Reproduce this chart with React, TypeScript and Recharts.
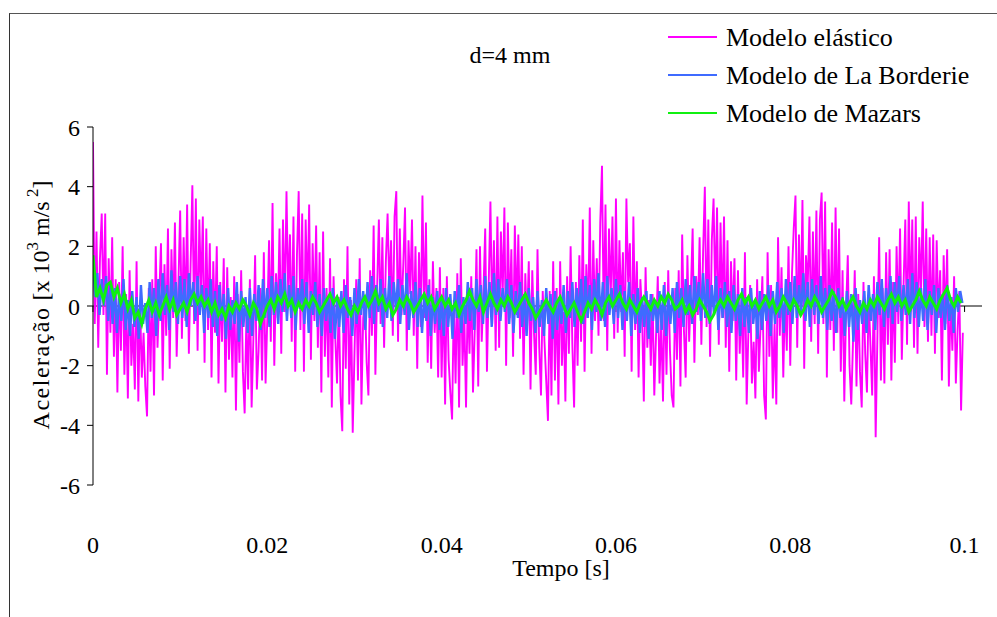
import { LineChart, Line, XAxis, YAxis, ReferenceLine } from "recharts";

// sampling steps of each series [s]
const DT_ELASTIC = 0.0002;
const DT_BORDERIE = 0.00025;
const DT_MAZARS = 0.0004;

const ELASTIC = [
  5.5, -0.6, 2.5, -1.4, 1.6, 3.1, -0.3, 3.1, -2.3, 1.6,
  -0.9, 2.3, -1.7, 0.9, -2.9, 0.8, -1.5, 2.0, -2.3, 0.4,
  -3.1, 1.2, -2.0, -0.6, -2.8, 1.5, -3.2, 0.2, -2.4, -0.9,
  -2.7, -3.7, 0.6, -2.2, 0.9, -3.0, 2.0, -1.4, 0.3, 2.1,
  -2.5, 1.4, -1.0, 2.6, -2.1, 1.9, -0.4, 2.8, -1.7, 0.7,
  3.2, -1.1, 2.3, -0.5, 3.4, -1.6, 1.4, 4.05, -0.6, 3.6,
  -1.5, 2.9, 0.4, 3.0, -1.9, 2.6, -0.8, 2.1, -2.4, 1.5,
  -0.9, 2.0, -2.6, 0.8, -1.2, 1.6, -2.9, 1.3, -1.8, 0.3,
  -2.4, 1.0, -3.5, 0.4, -1.9, 1.2, -2.2, -3.6, -0.3, -2.8,
  0.9, -3.4, -1.1, 1.7, -2.8, -1.5, 0.6, -2.5, 1.8, -2.6,
  -0.4, 2.2, -1.2, 3.45, -2.0, 1.1, -0.4, 2.6, -1.6, 2.9,
  -0.2, 3.85, 0.3, 2.4, -1.2, 3.0, -2.2, 1.7, 3.85, -0.8,
  3.1, -2.2, 2.9, 0.1, 3.4, -1.8, 2.1, -0.5, 2.7, -1.4,
  1.8, -2.9, 2.5, -1.7, 0.6, -2.4, 1.6, -3.4, 1.0, -1.1,
  -2.6, 0.3, -3.0, -4.2, 0.9, -2.1, 2.0, -3.3, 0.2, -4.25,
  -1.6, 0.9, -2.5, 1.6, -3.3, -0.4, 0.2, -1.9, -3.0, 1.2,
  -1.0, 2.7, -2.3, 0.6, 2.9, -0.6, 2.3, -1.4, 1.5, 3.1,
  0.5, 2.2, -1.0, 3.0, 3.85, -1.2, 2.6, -0.3, 1.4, 3.3,
  -1.5, 2.2, 0.4, 2.9, -1.0, 2.0, -2.1, 1.8, -0.7, 3.7,
  -0.4, 2.8, -1.9, 0.9, -2.1, 1.5, -0.9, 0.6, -2.4, 1.3,
  -2.4, 0.6, -3.3, 1.0, -1.8, -2.9, -3.8, 0.2, -2.6, 1.1,
  -3.4, 1.6, -2.0, -0.3, -3.4, 0.4, -1.6, 1.0, -2.9, -0.8,
  1.9, -2.7, 2.0, -1.2, 0.5, 2.6, -2.2, 0.7, 3.5, -0.6,
  2.2, -1.5, 3.0, -1.4, 2.5, 0.3, 3.3, -2.0, 2.8, -0.4,
  1.9, -1.7, 2.7, -0.3, 2.4, -1.1, 2.0, -2.3, 1.1, -0.7,
  1.5, -2.8, 1.2, -0.9, -2.3, 1.9, -1.4, -3.0, 0.5, -1.2,
  -2.5, -3.85, 0.5, -3.0, 1.5, -2.5, 0.6, -3.3, 1.5, -2.0,
  -0.2, -3.2, 1.0, -1.6, 2.0, -1.3, -3.4, 0.8, -2.0, 1.7,
  -1.2, 2.9, -2.2, 1.4, -0.4, 3.3, -1.6, 2.2, -0.5, 1.6,
  -1.0, 2.8, 4.7, -0.5, 3.4, -1.5, 2.6, 0.3, 3.0, -1.1,
  3.6, -0.9, 2.2, -0.2, 1.8, -1.7, 3.6, 0.8, 2.1, -2.2,
  3.0, -0.8, 1.5, -2.4, 0.9, -0.3, -3.2, 1.3, -1.4, 0.2,
  -2.0, 0.4, -3.0, -1.0, 1.0, -2.6, -0.5, -3.2, 0.8, -2.3,
  1.2, -1.5, -3.0, -3.4, 0.6, -1.8, 1.2, -2.7, 2.4, -0.8,
  -2.4, 1.7, -1.2, 0.5, 2.6, -1.9, 1.0, -0.3, 2.3, -1.3,
  1.8, 4.0, -0.7, 2.9, -1.7, 2.2, 3.6, 0.2, 3.3, -1.3,
  2.8, -0.4, 3.0, -1.4, 2.2, -2.2, 1.5, -0.5, 1.6, -2.5,
  1.2, -1.6, 0.3, -2.4, 1.8, -3.3, -0.8, 0.7, -2.6, -1.2,
  -3.1, 0.9, -2.2, -0.6, 1.0, -3.0, -3.8, 1.8, -1.7, 0.7,
  -3.1, -0.6, -3.3, 2.3, -1.0, 1.3, -2.4, 0.4, -1.5, 2.0,
  -2.0, 1.1, 2.6, 3.7, -1.4, 2.4, -0.3, 3.55, -2.1, 1.7,
  0.6, 3.0, -1.2, 2.5, -0.6, 3.2, -1.6, 2.9, 3.8, -0.6,
  3.5, -2.4, 1.9, -0.8, 2.8, -1.5, 3.3, -0.9, 2.6, -2.2,
  1.2, -3.2, -0.2, 1.7, -2.0, -3.3, -1.2, 1.2, -2.7, 0.4,
  -2.2, -3.4, 0.8, -1.6, -2.9, 0.3, -1.3, -3.0, 1.0, -4.4,
  -1.0, 2.3, -2.5, 0.6, -2.6, 1.8, -1.3, 1.9, -2.5, 0.8,
  -1.9, 2.0, -0.6, 2.6, -1.8, 0.7, 2.9, -1.3, 3.5, -0.2,
  2.9, -1.4, 3.0, -1.6, 2.3, 0.5, 3.5, -0.7, 2.6, -1.2,
  2.3, -1.0, 2.4, -1.6, 2.2, -0.4, 1.2, -2.5, 1.7, -0.6,
  1.9, -2.7, 0.3, -1.5, 1.0, -2.6, -0.8, 0.5, -3.5, -0.9,
];

const BORDERIE = [
  1.5, 0.3, 1.1, -0.3, 0.9, 0.0, 1.0, -0.5, 0.8, -0.6,
  0.6, -0.9, 0.4, -0.5, 0.9, -0.8, 0.2, -1.0, 0.5, -0.7,
  0.3, -1.1, 0.7, -0.6, 0.1, -0.9, 0.8, -0.4, 0.6, -1.0,
  0.9, -0.5, 1.1, -0.3, 0.7, -0.8, 1.2, -0.2, 0.8, -0.6,
  1.0, -0.4, 0.9, -0.7, 1.1, 0.0, 0.8, -0.5, 1.0, -0.3,
  0.7, -0.9, 0.6, -0.4, 0.9, -0.7, 0.5, -1.0, 0.7, -0.5,
  0.4, -1.1, 0.6, -0.8, 0.2, -0.6, 0.8, -1.2, 0.5, -0.7,
  0.3, -0.9, 0.6, -1.0, 0.4, -0.5, 0.7, -0.8, 0.9, -0.4,
  0.6, -0.7, 1.0, -0.3, 0.8, -0.6, 0.9, -0.2, 1.1, -0.5,
  0.7, -0.4, 1.0, -0.8, 0.6, -0.1, 0.9, -0.6, 0.8, -0.9,
  0.5, -0.3, 0.8, -0.7, 0.4, -1.0, 0.6, -0.5, 0.3, -0.9,
  0.6, -1.1, 0.2, -0.7, 0.5, -0.9, 0.7, -0.4, 0.3, -1.0,
  0.6, -0.6, 0.9, -0.3, 0.5, -0.8, 0.8, -0.4, 1.0, -0.6,
  0.7, -0.2, 0.9, -0.7, 0.6, -0.4, 1.0, -0.5, 0.8, -0.1,
  0.9, -0.6, 0.7, -0.3, 1.1, -0.8, 0.5, -0.4, 0.8, -0.7,
  0.6, -0.9, 0.4, -0.5, 0.7, -1.0, 0.3, -0.6, 0.5, -0.8,
  0.2, -1.0, 0.6, -0.7, 0.4, -1.1, 0.5, -0.4, 0.7, -0.9,
  0.3, -0.6, 0.8, -0.5, 0.6, -0.8, 0.9, -0.2, 0.7, -0.6,
  1.0, -0.4, 0.8, -0.7, 1.1, -0.3, 0.9, -0.5, 0.6, -0.2,
  0.9, -0.6, 0.7, -0.9, 0.5, -0.4, 0.8, -0.7, 0.4, -1.0,
  0.6, -0.5, 0.3, -0.9, 0.5, -0.7, 0.2, -1.0, 0.6, -0.6,
  0.4, -1.1, 0.5, -0.8, 0.3, -0.6, 0.7, -0.9, 0.5, -0.4,
  0.8, -0.7, 0.6, -0.3, 0.9, -0.6, 1.0, -0.4, 0.7, -0.8,
  0.9, -0.2, 1.1, -0.5, 0.8, -0.7, 1.0, -0.3, 0.6, -0.6,
  0.9, -0.4, 0.7, -0.8, 0.5, -0.5, 0.8, -1.0, 0.4, -0.6,
  0.6, -0.9, 0.3, -0.7, 0.5, -1.1, 0.4, -0.5, 0.2, -0.9,
  0.5, -0.8, 0.7, -1.0, 0.3, -0.6, 0.6, -0.9, 0.8, -0.4,
  0.6, -0.7, 0.9, -0.3, 0.7, -0.6, 1.0, -0.2, 0.8, -0.5,
  1.1, -0.4, 0.9, -0.6, 0.7, -0.3, 1.0, -0.8, 0.6, -0.4,
  0.8, -0.7, 0.5, -0.9, 0.7, -0.5, 0.4, -1.0, 0.6, -0.7,
  0.3, -0.9, 0.6, -0.6, 0.2, -1.1, 0.5, -0.8, 0.4, -0.5,
  0.7, -1.0, 0.5, -0.6, 0.8, -0.4, 0.6, -0.9, 0.9, -0.3,
  0.8, -0.6, 1.0, -0.4, 0.7, -0.2, 1.1, -0.5, 0.8, -0.7,
  0.9, -0.3, 0.7, -0.6, 1.0, -0.4, 0.6, -0.8, 0.7, -0.5,
  0.5, -0.9, 0.6, -0.4, 0.3, -1.0, 0.5, -0.7, 0.4, -1.2,
  0.6, -0.8, 0.2, -0.6, 0.5, -0.9, 0.7, -0.5, 0.4, -0.8,
  0.8, -0.3, 0.9, -0.7, 0.6, -0.4, 1.0, -0.6, 0.8, -0.2,
  1.0, -0.5, 0.7, -0.3, 0.9, -0.6, 1.1, -0.4, 0.8, -0.7,
  0.6, -0.5, 0.9, -0.8, 0.5, -0.3, 0.7, -0.9, 0.6, -0.4,
  0.4, -0.8, 0.7, -0.5, 0.3, -0.9, 0.6, -0.2, 0.5, 0.1,
];

const MAZARS = [
  1.7, 0.3, 0.6, 0.2, 0.7, 0.8, 0.3, 0.6, 0.1, 0.4,
  -0.1, 0.2, -0.4, -0.2, -0.6, -0.1, 0.2, -0.2, 0.1, -0.3,
  0.0, 0.3, -0.1, 0.2, -0.3, -0.1, 0.1, -0.2, 0.2, 0.4,
  0.1, 0.3, 0.0, 0.2, -0.2, 0.1, -0.3, -0.1, -0.4, 0.0,
  -0.2, 0.1, -0.1, 0.2, 0.0, -0.3, 0.1, -0.1, -0.6, -0.3,
  0.0, 0.2, -0.1, 0.3, 0.1, 0.4, 0.0, 0.2, -0.2, 0.1,
  -0.1, 0.2, 0.0, 0.3, 0.1, -0.2, 0.0, 0.2, 0.4, 0.1,
  0.3, 0.0, 0.2, -0.1, -0.3, 0.0, -0.2, 0.1, 0.3, 0.0,
  0.2, 0.5, 0.1, 0.3, -0.1, 0.1, -0.3, -0.1, 0.2, 0.0,
  0.3, 0.1, -0.2, 0.0, 0.2, 0.4, 0.1, 0.3, -0.1, 0.1,
  0.3, 0.0, 0.2, -0.1, 0.1, -0.3, 0.0, 0.2, 0.5, 0.2,
  0.0, 0.3, -0.2, 0.1, 0.4, 0.1, -0.1, 0.2, 0.0, 0.3,
  0.1, -0.2, 0.0, 0.2, 0.4, 0.1, -0.1, -0.4, -0.2, 0.0,
  0.2, 0.0, -0.2, 0.1, 0.3, 0.0, -0.3, -0.1, 0.1, -0.2,
  -0.5, -0.2, 0.1, -0.1, 0.2, 0.0, -0.3, 0.1, 0.3, 0.0,
  0.2, 0.4, 0.1, -0.1, 0.2, 0.0, -0.2, 0.1, 0.3, 0.1,
  -0.1, 0.2, 0.0, 0.3, 0.1, 0.4, 0.2, -0.1, 0.0, 0.2,
  -0.2, 0.0, -0.3, -0.1, 0.2, 0.0, -0.2, -0.5, -0.3, 0.0,
  0.2, 0.0, 0.3, 0.1, -0.1, 0.2, 0.4, 0.1, 0.3, 0.0,
  0.2, -0.1, 0.1, 0.3, 0.0, 0.2, -0.2, 0.0, 0.3, 0.1,
  -0.1, 0.2, 0.0, -0.3, -0.1, 0.2, 0.0, 0.3, 0.1, -0.2,
  0.0, 0.2, 0.5, 0.3, 0.0, 0.2, -0.1, 0.1, 0.3, 0.0,
  -0.2, 0.1, -0.1, 0.2, 0.0, 0.3, 0.1, -0.1, 0.2, 0.4,
  0.1, 0.3, 0.0, 0.2, -0.2, 0.0, 0.2, 0.5, 0.2, 0.0,
  0.3, 0.1, -0.1, 0.2, 0.4, 0.6, 0.2, 0.0, 0.3, 0.1,
];

const X_TICKS = [0, 0.02, 0.04, 0.06, 0.08, 0.1];
const Y_TICKS = [-6, -4, -2, 0, 2, 4, 6];

const SERIES = [
  { name: "Modelo elástico", values: ELASTIC, dt: DT_ELASTIC, color: "#ff00ff", width: 1.9 },
  { name: "Modelo de La Borderie", values: BORDERIE, dt: DT_BORDERIE, color: "#3f6bff", width: 2.4 },
  { name: "Modelo de Mazars", values: MAZARS, dt: DT_MAZARS, color: "#10f010", width: 3 },
];

const FONT = "'Liberation Serif', 'Times New Roman', serif";

function YLabel() {
  return (
    <text
      transform="translate(49,305) rotate(-90)"
      textAnchor="middle"
      fontFamily={FONT}
      fontSize={24}
      fill="#000"
    >
      <tspan letterSpacing={1.5}>Aceleração</tspan>
      <tspan> [x 10</tspan>
      <tspan dy={-11} fontSize={17}>3</tspan>
      <tspan dy={11}> m/s</tspan>
      <tspan dy={-11} fontSize={17}> 2</tspan>
      <tspan dy={11}>]</tspan>
    </text>
  );
}

export default function App() {
  return (
    <div style={{ position: "absolute", left: 0, top: 0, width: 997, height: 617, background: "#fff", fontFamily: FONT }}>
      <div
        style={{
          position: "absolute",
          left: 9,
          top: 13,
          width: 1000,
          height: 620,
          borderTop: "1px solid #555",
          borderLeft: "1px solid #333",
        }}
      />
      <LineChart
        width={997}
        height={617}
        margin={{ top: 127, right: 15, bottom: 72, left: 33 }}
        style={{ position: "absolute", left: 0, top: 0, fontFamily: FONT }}
      >
        <XAxis
          dataKey="t"
          type="number"
          domain={[0, 0.102]}
          ticks={X_TICKS}
          axisLine={false}
          tickLine={false}
          tickSize={6}
          tickMargin={45}
          height={60}
          allowDataOverflow
          tick={{ fill: "#000", fontSize: 24, fontFamily: FONT }}
        />
        <YAxis
          type="number"
          domain={[-6, 6]}
          ticks={Y_TICKS}
          width={60}
          tickSize={6}
          tickMargin={7}
          axisLine={{ stroke: "#000" }}
          tickLine={{ stroke: "#000" }}
          tick={{ fill: "#000", fontSize: 24, fontFamily: FONT }}
        />
        <ReferenceLine y={0} stroke="#000" strokeWidth={1} />
        {X_TICKS.map((t) => (
          <ReferenceLine key={t} segment={[{ x: t, y: 0 }, { x: t, y: -0.2 }]} stroke="#000" />
        ))}
        {SERIES.map((s) => (
          <Line
            key={s.name}
            name={s.name}
            data={s.values.map((v, i) => ({ t: i * s.dt, v }))}
            dataKey="v"
            type="linear"
            stroke={s.color}
            strokeWidth={s.width}
            dot={false}
            activeDot={false}
            isAnimationActive={false}
          />
        ))}
        <YLabel />
        <text x={510} y={55} textAnchor="middle" dominantBaseline="central" fontFamily={FONT} fontSize={24} fill="#000">
          d=4 mm
        </text>
        <text x={561} y={568} textAnchor="middle" dominantBaseline="central" fontFamily={FONT} fontSize={24} fill="#000">
          Tempo [s]
        </text>
        {SERIES.map((s, k) => (
          <g key={s.name}>
            <line x1={668} x2={717} y1={37 + 38 * k} y2={37 + 38 * k} stroke={s.color} strokeWidth={2} />
            <text x={726} y={37 + 38 * k} dominantBaseline="central" fontFamily={FONT} fontSize={26} fill="#000">
              {s.name}
            </text>
          </g>
        ))}
      </LineChart>
    </div>
  );
}
